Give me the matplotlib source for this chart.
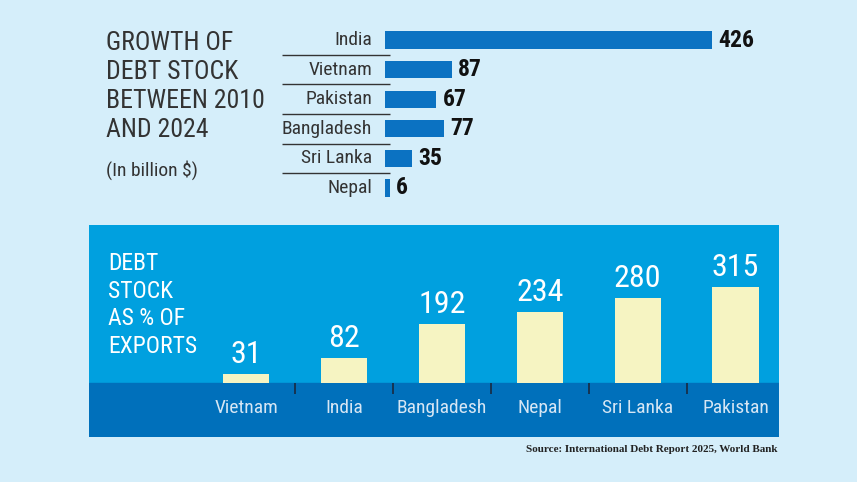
import matplotlib
matplotlib.use("Agg")
import matplotlib.pyplot as plt

# growth of debt stock 2010-2024, billion $
growth_countries = ["India", "Vietnam", "Pakistan", "Bangladesh", "Sri Lanka", "Nepal"]
growth_values = [426, 87, 67, 77, 35, 6]

# debt stock as % of exports
export_countries = ["Vietnam", "India", "Bangladesh", "Nepal", "Sri Lanka", "Pakistan"]
export_values = [31, 82, 192, 234, 280, 315]

bg = "#d5eefa"
bar_blue = "#0b72c2"
panel_blue = "#00a0df"
band_blue = "#0070bb"
yellow = "#f6f4c2"
narrow = ["Roboto Condensed", "DejaVu Sans"]

W, H = 857, 482
fig = plt.figure(figsize=(W / 100, H / 100), dpi=100, facecolor=bg)

def px_axes(x0, y0, x1, y1):
    # axes from pixel box (top-left origin)
    return fig.add_axes([x0 / W, 1 - y1 / H, (x1 - x0) / W, (y1 - y0) / H])

# ---- top chart ----
ax1 = px_axes(385, 25.2, 780, 202.8)
ax1.set_facecolor("none")
scale = 327 / 426  # px per billion
ax1.set_xlim(0, 395 / scale)
ax1.set_ylim(5.5, -0.5)
ax1.barh(range(len(growth_values)), growth_values, height=0.58, color=bar_blue)
for i, (c, v) in enumerate(zip(growth_countries, growth_values)):
    ax1.text(v + 6 / scale, i, str(v), va="center", ha="left", fontsize=17,
             fontweight="bold", color="#111111", family=narrow)
    ax1.text(-13 / scale, i, c, va="center", ha="right", fontsize=14,
             color="#333333", family=narrow)
for i in range(len(growth_values) - 1):
    ax1.hlines(i + 0.5, -103 / scale, 5 / scale, color="#333333", lw=1, clip_on=False)
ax1.axis("off")

fig.text(106 / W, 1 - 31 / H, "GROWTH OF\nDEBT STOCK\nBETWEEN 2010\nAND 2024",
         ha="left", va="top", fontsize=18.5, color="#333333", family=narrow,
         linespacing=1.26)
fig.text(106 / W, 1 - 170 / H, "(In billion $)", ha="left", va="center",
         fontsize=14, color="#333333", family=narrow)

# ---- bottom chart ----
ax2 = px_axes(89, 225, 779, 437)
step = 97.9
pscale = 0.305
ax2.set_xlim(-(246 - 89) / step, (779 - 246) / step)
ax2.set_ylim(-(437 - 383) / pscale, (383 - 225) / pscale)
ax2.set_facecolor(panel_blue)
ax2.axhspan(-1000, 0, color=band_blue, zorder=0)
xs = list(range(len(export_values)))
ax2.bar(xs, export_values, width=0.47, color=yellow, zorder=2)
for x, c, v in zip(xs, export_countries, export_values):
    ax2.text(x, v + 5 / pscale, str(v), ha="center", va="bottom", fontsize=23,
             color="white", family=narrow)
    ax2.text(x, -25 / pscale, c, ha="center", va="center", fontsize=14,
             color="#d6e6f4", family=narrow)
for x in xs[:-1]:
    ax2.vlines(x + 0.5, -11 / pscale, 0, color="#1a2a40", lw=1.2)
for s in ax2.spines.values():
    s.set_visible(False)
ax2.set_xticks([])
ax2.set_yticks([])

ax2.text(19 / step - (246 - 89) / step, (383 - 252) / pscale,
         "DEBT\nSTOCK\nAS % OF\nEXPORTS", ha="left", va="top", fontsize=17,
         color="white", family=narrow, linespacing=1.26)

fig.text(778 / W, 1 - 449 / H, "Source: International Debt Report 2025, World Bank",
         ha="right", va="center", fontsize=8, fontweight="bold", color="#222222",
         family=["Liberation Serif", "DejaVu Serif"])

fig.savefig("out.png", dpi=100, facecolor=bg)
